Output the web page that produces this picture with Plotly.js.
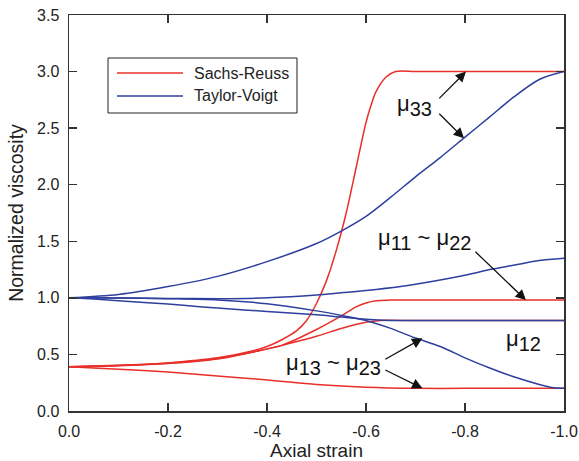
<!DOCTYPE html>
<html>
<head>
<meta charset="utf-8">
<script src="https://cdn.plot.ly/plotly-3.0.1.min.js"></script>
<style>html,body{margin:0;padding:0;background:#fff;}#chart{width:579px;height:461px;}</style>
</head>
<body>
<div id="chart"></div>
<script>
// ---- Data ----
// Sachs-Reuss (red)
var srMu33X = [0, -0.1, -0.2, -0.3, -0.37, -0.4, -0.43, -0.46, -0.48, -0.5, -0.52, -0.54, -0.56, -0.58, -0.6, -0.61, -0.62, -0.64, -0.66, -0.7, -0.8, -0.9, -1.0];
var srMu33Y = [0.39, 0.40, 0.425, 0.47, 0.53, 0.57, 0.63, 0.71, 0.80, 0.95, 1.15, 1.42, 1.75, 2.15, 2.55, 2.70, 2.82, 2.95, 3.0, 3.0, 3.0, 3.0, 3.0];
var srMu11X = [0, -0.1, -0.2, -0.3, -0.37, -0.43, -0.5, -0.55, -0.58, -0.6, -0.62, -0.65, -0.7, -0.8, -0.9, -1.0];
var srMu11Y = [0.39, 0.405, 0.425, 0.465, 0.52, 0.58, 0.72, 0.84, 0.92, 0.955, 0.975, 0.98, 0.98, 0.98, 0.98, 0.98];
var srMu12X = [0, -0.1, -0.2, -0.3, -0.37, -0.43, -0.5, -0.55, -0.6, -0.63, -0.7, -0.8, -0.9, -1.0];
var srMu12Y = [0.39, 0.403, 0.42, 0.46, 0.52, 0.58, 0.66, 0.73, 0.785, 0.80, 0.80, 0.80, 0.80, 0.80];
var srMu13X = [0, -0.1, -0.2, -0.3, -0.4, -0.5, -0.6, -0.7, -0.8, -0.9, -1.0];
var srMu13Y = [0.39, 0.37, 0.345, 0.31, 0.275, 0.235, 0.21, 0.20, 0.20, 0.20, 0.20];
// Taylor-Voigt (blue)
var tvMu33X = [0, -0.1, -0.2, -0.3, -0.4, -0.5, -0.55, -0.6, -0.65, -0.7, -0.75, -0.8, -0.85, -0.9, -0.95, -1.0];
var tvMu33Y = [1.0, 1.03, 1.10, 1.19, 1.32, 1.48, 1.59, 1.72, 1.89, 2.07, 2.24, 2.42, 2.60, 2.78, 2.93, 3.0];
var tvMu11X = [0, -0.1, -0.2, -0.3, -0.4, -0.5, -0.55, -0.6, -0.67, -0.7, -0.8, -0.85, -0.9, -0.95, -1.0];
var tvMu11Y = [1.0, 0.998, 0.995, 0.993, 1.0, 1.025, 1.045, 1.065, 1.10, 1.12, 1.20, 1.25, 1.29, 1.33, 1.35];
var tvMu12X = [0, -0.05, -0.1, -0.2, -0.27, -0.3, -0.4, -0.5, -0.55, -0.6, -0.65, -0.7, -0.8, -0.9, -1.0];
var tvMu12Y = [1.0, 0.99, 0.975, 0.945, 0.92, 0.91, 0.88, 0.85, 0.83, 0.81, 0.80, 0.80, 0.80, 0.80, 0.80];
var tvMu13X = [0, -0.1, -0.2, -0.3, -0.4, -0.5, -0.55, -0.6, -0.65, -0.7, -0.75, -0.8, -0.85, -0.9, -0.95, -0.98, -1.0];
var tvMu13Y = [1.0, 0.999, 0.993, 0.982, 0.948, 0.885, 0.845, 0.80, 0.73, 0.645, 0.57, 0.47, 0.38, 0.30, 0.235, 0.205, 0.20];

var xTickVals = [0, -0.2, -0.4, -0.6, -0.8, -1.0];
var xTickText = ["0.0", "-0.2", "-0.4", "-0.6", "-0.8", "-1.0"];
var yTickVals = [0, 0.5, 1.0, 1.5, 2.0, 2.5, 3.0, 3.5];
var yTickText = ["0.0", "0.5", "1.0", "1.5", "2.0", "2.5", "3.0", "3.5"];
var seriesNames = ["Sachs-Reuss", "Taylor-Voigt"];

var RED = '#e8302a', BLUE = '#2e3f9e';
var FONT = 'Arial, "Liberation Sans", sans-serif';

function tr(x, y, color, name) {
  return {x: x, y: y, type: 'scatter', mode: 'lines',
    line: {color: color, width: 1.5, shape: 'spline', smoothing: 0.8},
    name: name, showlegend: false, hoverinfo: 'skip'};
}
var data = [
  tr(srMu33X, srMu33Y, RED, seriesNames[0]),
  tr(srMu11X, srMu11Y, RED, seriesNames[0]),
  tr(srMu12X, srMu12Y, RED, seriesNames[0]),
  tr(srMu13X, srMu13Y, RED, seriesNames[0]),
  tr(tvMu33X, tvMu33Y, BLUE, seriesNames[1]),
  tr(tvMu11X, tvMu11Y, BLUE, seriesNames[1]),
  tr(tvMu12X, tvMu12Y, BLUE, seriesNames[1]),
  tr(tvMu13X, tvMu13Y, BLUE, seriesNames[1])
];

function sub(s){ return '<sub><span style="font-size:20px">' + s + '</span></sub>'; }
function label(x, y, t) {
  return {x: x, y: y, xref: 'x', yref: 'y', text: t, showarrow: false,
    font: {family: FONT, size: 22, color: '#111'}, xanchor: 'center', yanchor: 'middle'};
}
function arrow(ax, ay, x, y) {
  return {x: x, y: y, ax: ax, ay: ay, xref: 'x', yref: 'y', axref: 'x', ayref: 'y',
    text: '', showarrow: true, arrowhead: 2, arrowsize: 1.6, arrowwidth: 1.3,
    arrowcolor: '#111', standoff: 0, startstandoff: 0};
}

// manual legend (box, sample lines, labels) in paper coordinates
var legBox = {x0: 0.0788, x1: 0.4606, y0: 0.7525, y1: 0.8914};
var legRows = [0.8535, 0.7955];
var legColors = [RED, BLUE];
var shapes = [{type: 'rect', xref: 'paper', yref: 'paper', x0: legBox.x0, x1: legBox.x1,
  y0: legBox.y0, y1: legBox.y1, line: {color: '#222', width: 1}, fillcolor: 'rgba(0,0,0,0)'}];
var annotations = [];
for (var i = 0; i < seriesNames.length; i++) {
  shapes.push({type: 'line', xref: 'paper', yref: 'paper', x0: 0.097, x1: 0.2303,
    y0: legRows[i], y1: legRows[i], line: {color: legColors[i], width: 1.5}});
  annotations.push({xref: 'paper', yref: 'paper', x: 0.2485, y: legRows[i], text: seriesNames[i],
    showarrow: false, xanchor: 'left', yanchor: 'middle',
    font: {family: FONT, size: 16, color: '#222'}});
}

annotations = annotations.concat([
  label(-0.698, 2.70, 'μ' + sub('33')),
  arrow(-0.745, 2.75, -0.802, 3.0),
  arrow(-0.745, 2.64, -0.798, 2.41),
  label(-0.719, 1.52, 'μ' + sub('11') + ' ~ μ' + sub('22')),
  arrow(-0.818, 1.42, -0.923, 0.98),
  label(-0.919, 0.62, 'μ' + sub('12')),
  label(-0.534, 0.41, 'μ' + sub('13') + ' ~ μ' + sub('23')),
  arrow(-0.636, 0.45, -0.714, 0.643),
  arrow(-0.636, 0.369, -0.714, 0.20)
]);

var axisCommon = {
  showline: true, linecolor: '#333', linewidth: 1.5, mirror: 'allticks',
  ticks: 'inside', ticklen: 8, tickwidth: 1.5, tickcolor: '#333',
  showgrid: false, zeroline: false,
  tickfont: {family: FONT, size: 16, color: '#222'}
};

var layout = {
  width: 579, height: 461,
  margin: {l: 69, r: 15, t: 15, b: 50},
  paper_bgcolor: '#fff', plot_bgcolor: '#fff',
  font: {family: FONT, color: '#222'},
  showlegend: false,
  xaxis: Object.assign({}, axisCommon, {
    range: [0, -1.0], tickmode: 'array', tickvals: xTickVals, ticktext: xTickText,
    ticklabelstandoff: 5,
    title: {text: 'Axial strain', font: {family: FONT, size: 19, color: '#222'}, standoff: 4}
  }),
  yaxis: Object.assign({}, axisCommon, {
    range: [0, 3.5], tickmode: 'array', tickvals: yTickVals, ticktext: yTickText,
    ticklabelstandoff: 5,
    title: {text: 'Normalized viscosity', font: {family: FONT, size: 19.5, color: '#222'}, standoff: 8}
  }),
  shapes: shapes,
  annotations: annotations
};

Plotly.newPlot('chart', data, layout, {displayModeBar: false, staticPlot: true});
</script>
</body>
</html>
